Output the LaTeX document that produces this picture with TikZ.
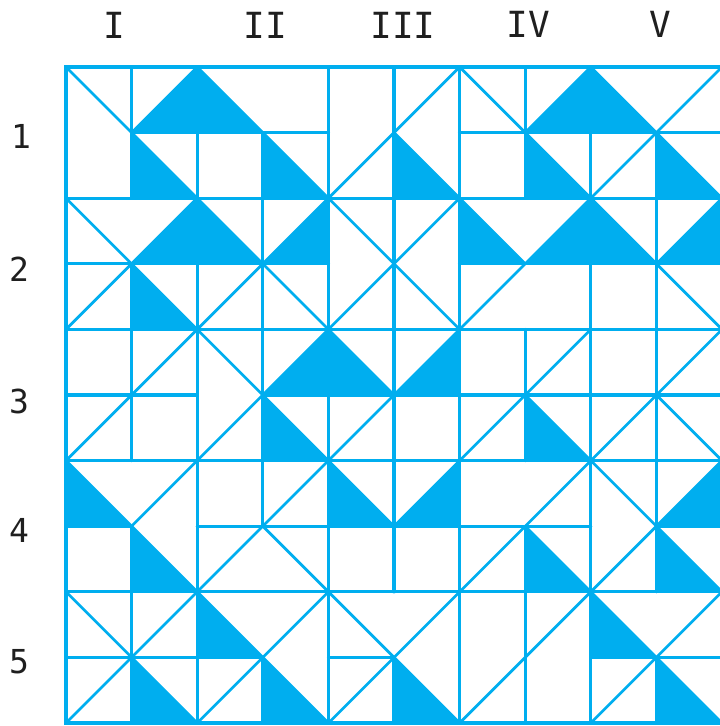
\documentclass[tikz,border=0pt]{standalone}
\usepackage{fontspec}
\newfontfamily\labfont{DejaVu Sans Mono}
\definecolor{cy}{HTML}{00AEEF}
\begin{document}
\begin{tikzpicture}[x=1pt,y=1pt,
  gl/.style={draw=cy,line width=3.3pt,line cap=round},
  bl/.style={draw=cy,line width=3.6pt,line cap=round},
  dl/.style={draw=cy,line width=2.7pt,line cap=round},
  collab/.style={font=\labfont\fontsize{36}{36}\selectfont,text=black!88,inner sep=0pt},
  rowlab/.style={font=\labfont\fontsize{33}{33}\selectfont,text=black!88,inner sep=0pt}]
\useasboundingbox (0,0) rectangle (720,-726);
\begin{scope}[shift={(66,-67)},x=65.6pt,y=-65.6pt]
  % filled triangles (lower-left halves)
  \foreach \i/\j in {2/0,8/0,1/1,3/1,5/1,7/1,9/1,2/2,6/2,8/2,1/3,4/4,3/5,7/5,0/6,4/6,1/7,7/7,9/7,2/8,8/8,1/9,3/9,5/9,9/9}
    \fill[cy] (\i,\j) -- (\i,\j+1) -- (\i+1,\j+1) -- cycle;
  % filled triangles (lower-right halves)
  \foreach \i/\j in {1/0,7/0,1/2,3/2,7/2,9/2,3/4,5/4,5/6,9/6}
    \fill[cy] (\i,\j+1) -- (\i+1,\j) -- (\i+1,\j+1) -- cycle;
  % diagonals "\"
  \foreach \i/\j in {0/0,2/0,6/0,8/0,1/1,3/1,5/1,7/1,9/1,0/2,2/2,4/2,6/2,8/2,1/3,3/3,5/3,9/3,2/4,4/4,3/5,7/5,9/5,0/6,4/6,8/6,1/7,3/7,7/7,9/7,0/8,2/8,4/8,8/8,1/9,3/9,5/9,9/9}
    \draw[dl] (\i,\j) -- (\i+1,\j+1);
  % diagonals "/"
  \foreach \i/\j in {1/0,5/0,7/0,9/0,4/1,8/1,1/2,3/2,5/2,7/2,9/2,0/3,2/3,4/3,6/3,1/4,3/4,5/4,7/4,9/4,0/5,2/5,4/5,6/5,8/5,1/6,3/6,5/6,7/6,9/6,2/7,6/7,8/7,1/8,3/8,5/8,7/8,9/8,0/9,2/9,4/9,6/9,8/9}
    \draw[dl] (\i,\j+1) -- (\i+1,\j);
  % horizontal lines
  \foreach \j in {2,4,6,8} \draw[gl] (0,\j) -- (10,\j);
  \draw[gl] (1,1) -- (4,1) (6,1) -- (10,1);
  \draw[gl] (0,3) -- (4,3) (6,3) -- (10,3);
  \draw[gl] (0,5) -- (2,5) (3,5) -- (10,5);
  \draw[gl] (0,7) -- (1,7) (2,7) -- (8,7) (9,7) -- (10,7);
  \draw[gl] (0,9) -- (3,9) (4,9) -- (5,9) (8,9) -- (10,9);
  % vertical lines
  \foreach \i in {4,6} \draw[gl] (\i,0) -- (\i,10);
  \draw[gl] (1,0) -- (1,2) (1,3) -- (1,6) (1,7) -- (1,10);
  \draw[gl] (2,1) -- (2,2) (2,3) -- (2,10);
  \draw[gl] (3,1) -- (3,7) (3,9) -- (3,10);
  \draw[gl] (5,0) -- (5,8) (5,9) -- (5,10);
  \draw[gl] (7,0) -- (7,2) (7,4) -- (7,6) (7,7) -- (7,10);
  \draw[gl] (8,1) -- (8,2) (8,3) -- (8,10);
  \draw[gl] (9,1) -- (9,8) (9,9) -- (9,10);
  % outer border
  \draw[bl] (0,0) rectangle (10,10);
\end{scope}
% column labels
\node[collab] (cI)   at (114.5,-25) {I};
\node[collab] (cII)  at (265,-25) {II};
\node[collab] (cIII) at (403,-25) {III};
\node[collab] (cIV)  at (528,-24) {IV};
\node[collab] (cV)   at (660,-24) {V};
% row labels
\node[rowlab] (r1) at (21,-136) {1};
\node[rowlab] (r2) at (19,-269) {2};
\node[rowlab] (r3) at (19,-401) {3};
\node[rowlab] (r4) at (19,-530) {4};
\node[rowlab] (r5) at (19,-662) {5};
\end{tikzpicture}
\end{document}
